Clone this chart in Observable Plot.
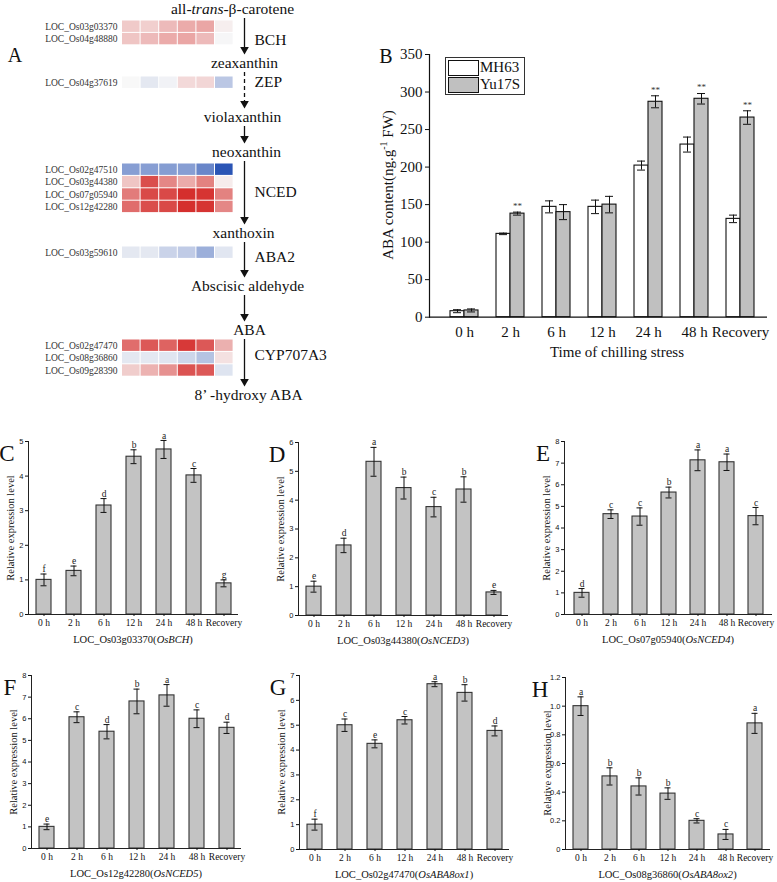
<!DOCTYPE html>
<html><head><meta charset="utf-8">
<script src="https://cdn.jsdelivr.net/npm/d3@7"></script>
<script src="https://cdn.jsdelivr.net/npm/@observablehq/plot@0.6"></script>
<style>
html,body{margin:0;padding:0;background:#fff;}
#fig{position:relative;width:777px;height:882px;overflow:hidden;background:#fff;font-family:"Liberation Serif","Times New Roman",serif;color:#111;}
.abs{position:absolute;}
.abs svg{overflow:visible;display:block;}
.lbl{position:absolute;white-space:nowrap;line-height:1;}
</style></head><body><div id="fig"></div><script>
// ---------------- DATA ----------------
const times = ["0 h","2 h","6 h","12 h","24 h","48 h","Recovery"];
const heatColumns = ["2 h","6 h","12 h","24 h","48 h","Recovery"];

// Panel A: heatmap genes, pathway
const heatGenes = ["LOC_Os03g03370","LOC_Os04g48880","LOC_Os04g37619","LOC_Os02g47510","LOC_Os03g44380","LOC_Os07g05940","LOC_Os12g42280","LOC_Os03g59610","LOC_Os02g47470","LOC_Os08g36860","LOC_Os09g28390"];
const heatGroups = ["BCH","BCH","ZEP","NCED","NCED","NCED","NCED","ABA2","CYP707A3","CYP707A3","CYP707A3"];
const heatValues = [
  [0.45, 0.40, 0.60, 0.75, 0.80, 0.10],
  [0.50, 0.60, 0.75, 0.80, 0.60, -0.02],
  [0.00, -0.20, -0.07, 0.30, 0.33, -0.60],
  [-1.10, -1.10, -1.12, -1.10, -1.40, -2.00],
  [0.50, 1.65, 1.10, 0.75, 1.15, 0.12],
  [1.20, 1.70, 1.70, 1.95, 1.90, 1.15],
  [1.35, 1.65, 1.70, 1.95, 1.90, 1.10],
  [-0.20, -0.20, -0.45, -0.55, -0.90, -0.22],
  [1.35, 1.55, 1.45, 1.85, 1.55, 0.70],
  [-0.20, -0.20, -0.23, -0.42, -0.65, 0.22],
  [0.42, 0.68, 1.00, 1.60, 1.55, -0.25]
];
const metabolites = ["all-trans-β-carotene","zeaxanthin","violaxanthin","neoxanthin","xanthoxin","Abscisic aldehyde","ABA","8’ -hydroxy ABA"];
const stepEnzymes = ["BCH","ZEP",null,"NCED","ABA2",null,"CYP707A3"];

// Panel B: ABA content
const mh63Mean = [8, 111, 147, 147, 202, 230, 131];
const mh63Err = [2, 1, 8, 9, 6, 10, 5];
const yu17sMean = [9, 138, 140, 150, 287, 291, 266];
const yu17sErr = [2, 2, 10, 11, 8, 7, 9];
const yu17sSig = ["", "**", "", "", "**", "**", "**"];

// Panels C-H: relative expression
const bchMean = [1.0, 1.26, 3.15, 4.56, 4.77, 4.02, 0.9];
const bchErr = [0.17, 0.14, 0.2, 0.2, 0.26, 0.2, 0.1];
const bchLetters = ["f","e","d","b","a","c","g"];
const nced3Mean = [1.0, 2.43, 5.33, 4.42, 3.76, 4.37, 0.8];
const nced3Err = [0.19, 0.25, 0.5, 0.38, 0.34, 0.44, 0.07];
const nced3Letters = ["e","d","a","b","c","b","e"];
const nced4Mean = [1.0, 4.64, 4.53, 5.64, 7.13, 7.04, 4.55];
const nced4Err = [0.2, 0.2, 0.4, 0.25, 0.48, 0.38, 0.4];
const nced4Letters = ["d","c","c","b","a","a","c"];
const nced5Mean = [1.0, 6.07, 5.4, 6.8, 7.08, 6.0, 5.58];
const nced5Err = [0.13, 0.25, 0.33, 0.57, 0.5, 0.41, 0.26];
const nced5Letters = ["e","c","d","b","a","c","d"];
const aba8ox1Mean = [1.0, 5.0, 4.25, 5.2, 6.65, 6.3, 4.77];
const aba8ox1Err = [0.22, 0.25, 0.16, 0.15, 0.1, 0.33, 0.2];
const aba8ox1Letters = ["f","c","e","c","a","b","d"];
const aba8ox2Mean = [1.0, 0.51, 0.44, 0.39, 0.2, 0.105, 0.88];
const aba8ox2Err = [0.065, 0.06, 0.06, 0.04, 0.015, 0.035, 0.07];
const aba8ox2Letters = ["a","b","b","b","c","c","a"];

// ---------------- HELPERS ----------------
const SERIF = "'Liberation Serif','Times New Roman',serif";
const SANS = "'Liberation Sans',Arial,sans-serif";
const fig = document.getElementById("fig");
function place(node, left, top, width) {
  const d = document.createElement("div");
  d.className = "abs";
  d.style.left = left + "px"; d.style.top = top + "px"; d.style.width = width + "px";
  d.appendChild(node); fig.appendChild(d); return d;
}
function label(html, cx, cy, size, extra) {
  const d = document.createElement("div");
  d.className = "lbl";
  d.style.left = cx + "px"; d.style.top = cy + "px";
  d.style.fontSize = size + "px";
  d.style.transform = "translate(-50%,-50%)" + (extra || "");
  d.innerHTML = html; fig.appendChild(d); return d;
}

// ---------------- PANEL A ----------------
(function () {
  const W = 380, H = 410;
  const LA = {x0: 121.5, cw: 18.6, rh: 12.4, arrowX: 244, enzX: 254, geneX: 117};
  const groupTop = {BCH: 20, ZEP: 76, NCED: 163, ABA2: 246, CYP707A3: 339};
  const metY = [9, 63, 117, 152, 233, 286, 330, 395];
  const metX = [232, 244, 242, 246, 243, 247, 249, 248];
  const enzY = {BCH: 40, ZEP: 82, NCED: 192, ABA2: 257, CYP707A3: 355};
  const seen = {};
  const rowY = heatGenes.map((g, i) => {
    const grp = heatGroups[i]; seen[grp] = (seen[grp] || 0);
    const y = groupTop[grp] + seen[grp] * LA.rh; seen[grp]++; return y;
  });
  const cells = [];
  heatGenes.forEach((g, i) => heatValues[i].forEach((v, j) => cells.push({gene: g, row: i, col: heatColumns[j], j, v})));
  const steps = stepEnzymes.map((e, i) => ({enzyme: e, y1: metY[i] + 9, y2: metY[i + 1] - 10, dashed: e === "ZEP"}));
  const enzymes = steps.filter(s => s.enzyme);
  const svg = Plot.plot({
    width: W, height: H, margin: 0,
    style: {background: "transparent", fontFamily: SERIF, overflow: "visible"},
    x: {type: "identity", axis: null},
    y: {type: "identity", axis: null},
    color: {type: "linear", domain: [-2, 0, 2], range: ["#2b55b5", "#f8f8f8", "#d42a28"], interpolate: "rgb"},
    marks: [
      Plot.rect(cells, {x1: d => LA.x0 + d.j * LA.cw, x2: d => LA.x0 + (d.j + 1) * LA.cw, y1: d => rowY[d.row], y2: d => rowY[d.row] + LA.rh, fill: "v", inset: 0.5}),
      Plot.text(heatGenes, {x: LA.geneX, y: (d, i) => rowY[i] + LA.rh / 2, text: d => d, textAnchor: "end", fontSize: 9.5, fill: "#333"}),
      Plot.text(metabolites, {x: (d, i) => metX[i], y: (d, i) => metY[i], text: d => d, fontSize: 15.5, fill: "#111"}),
      Plot.text(enzymes, {x: LA.enzX, y: d => enzY[d.enzyme], text: "enzyme", textAnchor: "start", fontSize: 15.5, fill: "#111"}),
      Plot.ruleX(steps.filter(s => !s.dashed), {x: LA.arrowX, y1: "y1", y2: d => d.y2 - 5, stroke: "#111", strokeWidth: 1.3}),
      Plot.ruleX(steps.filter(s => s.dashed), {x: LA.arrowX, y1: "y1", y2: d => d.y2 - 5, stroke: "#111", strokeWidth: 1.3, strokeDasharray: "4,3"}),
      Plot.dot(steps, {x: LA.arrowX, y: "y2", symbol: "triangle", r: 3.2, fill: "#111", stroke: "none", rotate: 180, dy: -4})
    ]
  });
  d3.select(svg).selectAll("text").filter(function () { return this.textContent === "all-trans-β-carotene"; })
    .each(function () { this.innerHTML = 'all-<tspan font-style="italic">trans</tspan>-β-carotene'; });
  place(svg, 0, 0, W);
  label("A", 15, 55, 20);
})();

// ---------------- PANEL B ----------------
(function () {
  const left = 380, top = 40, W = 397, H = 330;
  const data = times.map((t, i) => ({t, m: mh63Mean[i], me: mh63Err[i], y: yu17sMean[i], ye: yu17sErr[i], s: yu17sSig[i]}));
  const svg = Plot.plot({
    width: W, height: H, marginLeft: 49, marginRight: 10, marginTop: 14, marginBottom: 53.3,
    style: {background: "transparent", fontFamily: SERIF, fontSize: "15px", overflow: "visible"},
    x: {domain: times, range: [48.3, 394.3], padding: 0.4, axis: null},
    y: {domain: [0, 350], axis: null},
    marks: [
      Plot.barY(data, {x: "t", y: "m", insetRight: 14, fill: "white", stroke: "#111", strokeWidth: 1.1}),
      Plot.barY(data, {x: "t", y: "y", insetLeft: 14, fill: "#c0c0c0", stroke: "#111", strokeWidth: 1.1}),
      Plot.ruleX(data, {x: "t", y1: d => d.m - d.me, y2: d => d.m + d.me, dx: -7, stroke: "#111"}),
      Plot.tickY(data, {x: "t", y: d => d.m + d.me, insetLeft: 3, insetRight: 17, stroke: "#111"}),
      Plot.tickY(data, {x: "t", y: d => d.m - d.me, insetLeft: 3, insetRight: 17, stroke: "#111"}),
      Plot.ruleX(data, {x: "t", y1: d => d.y - d.ye, y2: d => d.y + d.ye, dx: 7, stroke: "#111"}),
      Plot.tickY(data, {x: "t", y: d => d.y + d.ye, insetLeft: 17, insetRight: 3, stroke: "#111"}),
      Plot.tickY(data, {x: "t", y: d => d.y - d.ye, insetLeft: 17, insetRight: 3, stroke: "#111"}),
      Plot.text(data, {x: "t", y: d => d.y + d.ye, text: "s", dx: 7, dy: -6, fontSize: 9, fill: "#333"}),
      Plot.ruleY([0], {stroke: "#111", strokeWidth: 1.2}),
      Plot.axisY({ticks: d3.range(0, 351, 50), tickSize: 4, tickPadding: 3, fontSize: 15, fontFamily: SERIF, label: null}),
      Plot.axisX({tickSize: 0, tickPadding: 9, fontSize: 15, fontFamily: SERIF, label: null}),
      Plot.frame({anchor: "left", stroke: "#111", strokeWidth: 1.2})
    ]
  });
  place(svg, left, top, W);
  label("B", 386, 56, 20);
  label("ABA content(ng.g<sup style='font-size:10px'>-1</sup> FW)", 387, 185, 15, " rotate(-90deg)");
  label("Time of chilling stress", 617, 352, 15);
  const lg = document.createElement("div");
  lg.className = "abs";
  lg.style.cssText += "left:445px;top:57px;width:78px;height:36px;border:1px solid #333;background:#fff;";
  lg.innerHTML =
    "<div style='position:absolute;left:2px;top:2px;width:29px;height:14px;border:1px solid #111;background:#fff'></div>" +
    "<div style='position:absolute;left:34px;top:1px;font-size:15px;line-height:17px'>MH63</div>" +
    "<div style='position:absolute;left:2px;top:19px;width:29px;height:14px;border:1px solid #111;background:#c0c0c0'></div>" +
    "<div style='position:absolute;left:34px;top:18px;font-size:15px;line-height:17px'>Yu17S</div>";
  fig.appendChild(lg);
})();

// ---------------- PANELS C-H ----------------
function smallPanel(cfg) {
  const {mean, err, letters, yMax, yTicks, tickFormat = d3.format("d"), left, top, axisX, yTop, y0, title, letter, span = 210, letterDx = -21} = cfg;
  const W = 261, H = 240;
  const data = times.map((t, i) => ({t, v: mean[i], e: err[i], l: letters[i]}));
  const svg = Plot.plot({
    width: W, height: H,
    marginLeft: axisX - left, marginRight: W - (axisX - left) - span,
    marginTop: yTop - top, marginBottom: H - (y0 - top),
    style: {background: "transparent", fontFamily: SERIF, fontSize: "9.5px", overflow: "visible"},
    x: {domain: times, paddingInner: 0.5, paddingOuter: 0.25, axis: null},
    y: {domain: [0, yMax], axis: null},
    marks: [
      Plot.barY(data, {x: "t", y: "v", fill: "#c3c3c3", stroke: "#333", strokeWidth: 1.1}),
      Plot.ruleX(data, {x: "t", y1: d => d.v - d.e, y2: d => d.v + d.e, stroke: "#111"}),
      Plot.tickY(data, {x: "t", y: d => d.v + d.e, insetLeft: 4.5, insetRight: 4.5, stroke: "#111"}),
      Plot.tickY(data, {x: "t", y: d => d.v - d.e, insetLeft: 4.5, insetRight: 4.5, stroke: "#111"}),
      Plot.text(data, {x: "t", y: d => d.v + d.e, text: "l", dy: -5, fontSize: 9.5, fill: "#222"}),
      Plot.ruleY([0], {stroke: "#222"}),
      Plot.axisY({ticks: yTicks, tickSize: 3, tickPadding: 2, tickFormat, fontSize: 7.5, fontFamily: SANS, label: null}),
      Plot.axisX({tickSize: 2, tickPadding: 3, fontSize: 9.5, fontFamily: SERIF, label: null}),
      Plot.frame({anchor: "left", stroke: "#222"})
    ]
  });
  place(svg, left, top, W);
  label("Relative expression level", axisX - 17, (yTop + y0) / 2, 10.5, " rotate(-90deg)");
  label(title, axisX + span / 2, y0 + 26, 10.5);
  label(letter, axisX + letterDx, yTop + 12, 23);
}
const intTicks = n => d3.range(0, n + 1, 1);
smallPanel({mean: bchMean, err: bchErr, letters: bchLetters, yMax: 5, yTicks: intTicks(5), left: 0, top: 400, axisX: 28, yTop: 441, y0: 614, title: "LOC_Os03g03370(<i>OsBCH</i>)", letter: "C"});
smallPanel({mean: nced3Mean, err: nced3Err, letters: nced3Letters, yMax: 6, yTicks: intTicks(6), left: 258, top: 400, axisX: 298, yTop: 442, y0: 615, title: "LOC_Os03g44380(<i>OsNCED3</i>)", letter: "D"});
smallPanel({mean: nced4Mean, err: nced4Err, letters: nced4Letters, yMax: 8, yTicks: intTicks(8), left: 516, top: 400, axisX: 564, yTop: 441, y0: 614, title: "LOC_Os07g05940(<i>OsNCED4</i>)", letter: "E", span: 208});
smallPanel({mean: nced5Mean, err: nced5Err, letters: nced5Letters, yMax: 8, yTicks: intTicks(8), left: 0, top: 640, axisX: 31, yTop: 675, y0: 848, title: "LOC_Os12g42280(<i>OsNCED5</i>)", letter: "F"});
smallPanel({mean: aba8ox1Mean, err: aba8ox1Err, letters: aba8ox1Letters, yMax: 7, yTicks: intTicks(7), left: 258, top: 640, axisX: 299, yTop: 675, y0: 849, title: "LOC_Os02g47470(<i>OsABA8ox1</i>)", letter: "G"});
smallPanel({mean: aba8ox2Mean, err: aba8ox2Err, letters: aba8ox2Letters, yMax: 1.2, yTicks: d3.range(0, 1.21, 0.2), tickFormat: d => d === 0 ? "0" : d.toFixed(1), left: 516, top: 640, axisX: 565, yTop: 677, y0: 849, title: "LOC_Os08g36860(<i>OsABA8ox2</i>)", letter: "H", span: 205, letterDx: -25});
</script></body></html>
